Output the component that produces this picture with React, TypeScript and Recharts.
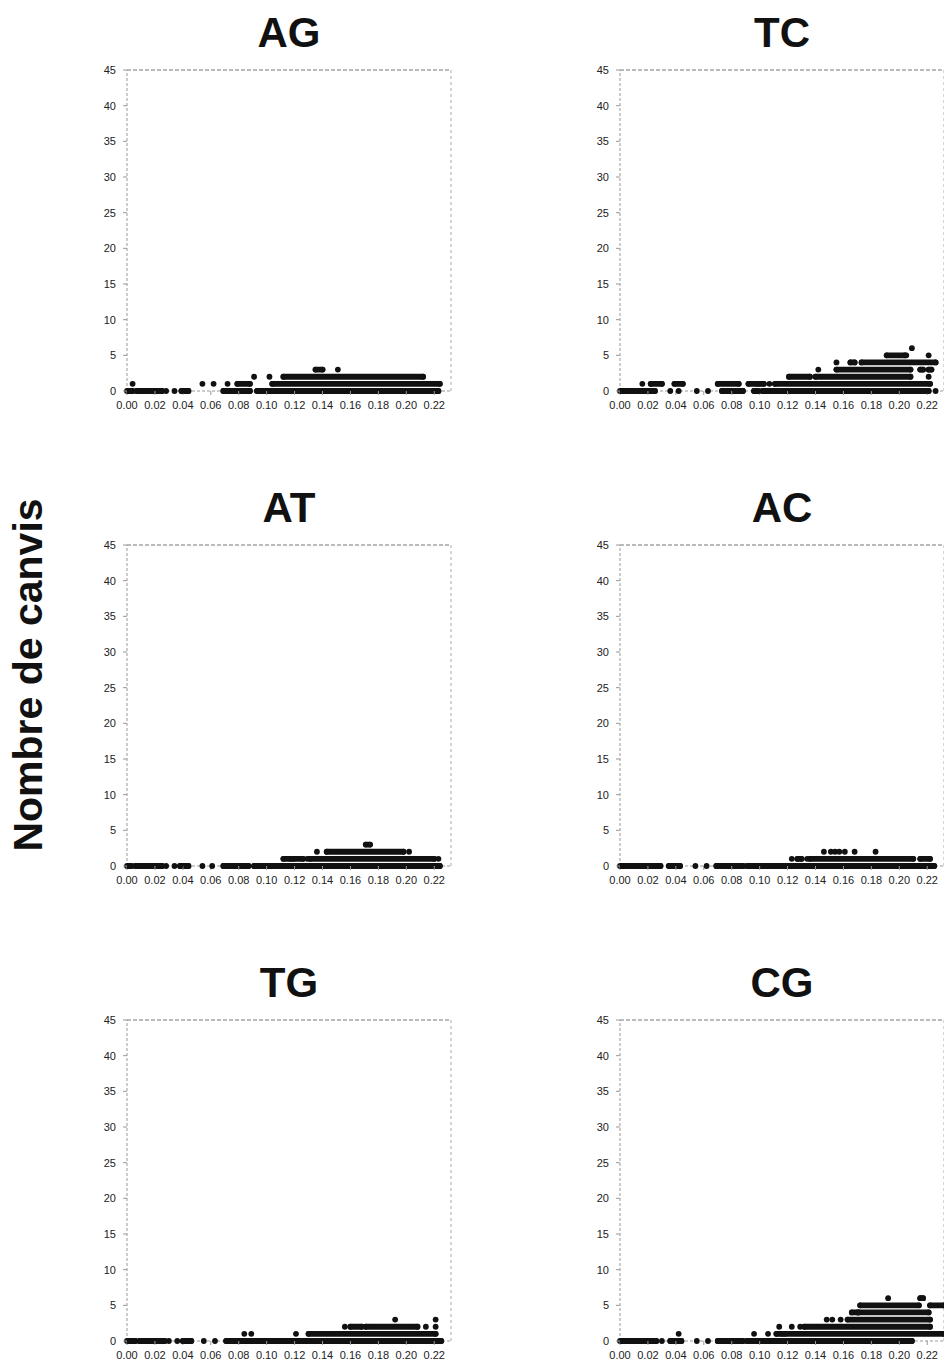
import React from 'react'
import { ScatterChart, Scatter, XAxis, YAxis, ReferenceLine } from 'recharts'

// Each run is a dense row of dots: [count, fromDistance, toDistance].
// Loose dots are [distance, count].
type Run = [number, number, number]
type Dot = [number, number]

const xTicks = [0, 0.02, 0.04, 0.06, 0.08, 0.1, 0.12, 0.14, 0.16, 0.18, 0.2, 0.22]
const yTicks = [0, 5, 10, 15, 20, 25, 30, 35, 40, 45]

const agRuns: Run[] = [
  [0, 0.0, 0.004], [0, 0.007, 0.025], [0, 0.039, 0.044], [0, 0.069, 0.088], [0, 0.093, 0.103], [0, 0.105, 0.223],
  [1, 0.079, 0.088], [1, 0.104, 0.224],
  [2, 0.112, 0.212],
  [3, 0.135, 0.14],
]
const agDots: Dot[] = [
  [0.028, 0], [0.034, 0], [0.004, 1], [0.054, 1], [0.062, 1], [0.072, 1], [0.091, 2], [0.102, 2], [0.151, 3],
]

const tcRuns: Run[] = [
  [0, 0.0, 0.007], [0, 0.008, 0.025], [0, 0.073, 0.088], [0, 0.096, 0.099], [0, 0.102, 0.221],
  [1, 0.022, 0.03], [1, 0.039, 0.045], [1, 0.07, 0.085], [1, 0.092, 0.098], [1, 0.1, 0.103], [1, 0.111, 0.222],
  [2, 0.121, 0.136], [2, 0.14, 0.208],
  [3, 0.155, 0.208], [3, 0.215, 0.217], [3, 0.221, 0.223],
  [4, 0.165, 0.168], [4, 0.173, 0.226],
  [5, 0.191, 0.204],
]
const tcDots: Dot[] = [
  [0.036, 0], [0.042, 0], [0.055, 0], [0.063, 0], [0.226, 0], [0.016, 1], [0.107, 1], [0.221, 2],
  [0.142, 3], [0.155, 4], [0.205, 5], [0.221, 5], [0.209, 6],
]

const atRuns: Run[] = [
  [0, 0.0, 0.003], [0, 0.006, 0.025], [0, 0.038, 0.044], [0, 0.069, 0.087], [0, 0.091, 0.224],
  [1, 0.112, 0.117], [1, 0.119, 0.126], [1, 0.131, 0.22],
  [2, 0.143, 0.198],
  [3, 0.171, 0.174],
]
const atDots: Dot[] = [
  [0.028, 0], [0.034, 0], [0.054, 0], [0.061, 0], [0.129, 1], [0.223, 1], [0.136, 2], [0.202, 2],
]

const acRuns: Run[] = [
  [0, 0.0, 0.029], [0, 0.035, 0.043], [0, 0.069, 0.088], [0, 0.091, 0.225],
  [1, 0.127, 0.13], [1, 0.136, 0.21], [1, 0.215, 0.222],
]
const acDots: Dot[] = [
  [0.054, 0], [0.062, 0], [0.123, 1], [0.134, 1],
  [0.146, 2], [0.151, 2], [0.154, 2], [0.157, 2], [0.161, 2], [0.168, 2], [0.183, 2],
]

const tgRuns: Run[] = [
  [0, 0.0, 0.006], [0, 0.009, 0.027], [0, 0.04, 0.046], [0, 0.071, 0.09], [0, 0.092, 0.225],
  [1, 0.13, 0.221],
  [2, 0.16, 0.168], [2, 0.171, 0.208],
]
const tgDots: Dot[] = [
  [0.03, 0], [0.036, 0], [0.055, 0], [0.063, 0], [0.084, 1], [0.089, 1], [0.121, 1],
  [0.156, 2], [0.214, 2], [0.221, 2], [0.192, 3], [0.221, 3],
]

const cgRuns: Run[] = [
  [0, 0.0, 0.005], [0, 0.007, 0.026], [0, 0.036, 0.044], [0, 0.07, 0.088], [0, 0.091, 0.209],
  [1, 0.112, 0.116], [1, 0.118, 0.232],
  [2, 0.132, 0.222],
  [3, 0.163, 0.222],
  [4, 0.166, 0.17], [4, 0.171, 0.221],
  [5, 0.172, 0.214], [5, 0.222, 0.232],
  [6, 0.215, 0.217],
]
const cgDots: Dot[] = [
  [0.03, 0], [0.055, 0], [0.063, 0], [0.042, 1], [0.096, 1], [0.106, 1],
  [0.114, 2], [0.123, 2], [0.129, 2], [0.148, 3], [0.152, 3], [0.158, 3], [0.192, 6],
]

const X_MAX = 0.232
const FONT = 'Arial, "Liberation Sans", Helvetica, sans-serif'
const DOT = '#111'
const FRAME = '#999'

const dotShape = (p: any) => <circle cx={p.cx} cy={p.cy} r={2.9} fill={DOT} />

function Panel({ left, top, runs, dots }: { left: number; top: number; runs: Run[]; dots: Dot[] }) {
  // run ends are dots too, which gives the rows their rounded ends
  const points = [
    ...runs.flatMap(([y, a, b]) => [{ x: a, y }, { x: b, y }]),
    ...dots.map(([x, y]) => ({ x, y })),
  ]
  return (
    <div style={{ position: 'absolute', left, top }}>
      <ScatterChart width={381} height={356} margin={{ top: 10, right: 10, bottom: 0, left: 0 }}>
        <XAxis
          type="number" dataKey="x" domain={[0, X_MAX]} ticks={xTicks} allowDataOverflow
          tickFormatter={(v: number) => v.toFixed(2)}
          tick={{ fill: '#222', fontSize: 11, fontFamily: FONT }}
          axisLine={false}
          tickLine={{ stroke: FRAME }} tickSize={4} tickMargin={6} height={25} interval={0}
        />
        <YAxis
          type="number" dataKey="y" domain={[0, 45]} ticks={yTicks}
          tick={{ fill: '#222', fontSize: 11, fontFamily: FONT }}
          axisLine={false}
          tickLine={{ stroke: FRAME }} tickSize={4} tickMargin={7} width={47}
        />
        {/* frame first so the dot rows sit on top of it */}
        <ReferenceLine y={0} stroke={FRAME} strokeDasharray="3 2" />
        <ReferenceLine x={0} stroke={FRAME} strokeDasharray="3 2" />
        <ReferenceLine y={45} stroke="#777" strokeDasharray="4 2" />
        <ReferenceLine x={X_MAX} stroke="#aaa" strokeDasharray="3 3" />
        {runs.map(([y, a, b], i) => (
          <ReferenceLine
            key={i}
            segment={[{ x: a, y }, { x: b, y }]}
            stroke={DOT}
            strokeWidth={5.8}
            strokeLinecap="round"
          />
        ))}
        <Scatter data={points} shape={dotShape} isAnimationActive={false} />
      </ScatterChart>
    </div>
  )
}

const titles = [
  { text: 'AG', x: 289, y: 47 }, { text: 'TC', x: 782, y: 47 },
  { text: 'AT', x: 289, y: 522 }, { text: 'AC', x: 782, y: 522 },
  { text: 'TG', x: 289, y: 997 }, { text: 'CG', x: 782, y: 997 },
]

export default function App() {
  return (
    <div style={{ position: 'absolute', left: 0, top: 0, width: 944, height: 1370, overflow: 'hidden', background: '#fff' }}>
      <Panel left={80} top={60} runs={agRuns} dots={agDots} />
      <Panel left={573} top={60} runs={tcRuns} dots={tcDots} />
      <Panel left={80} top={535} runs={atRuns} dots={atDots} />
      <Panel left={573} top={535} runs={acRuns} dots={acDots} />
      <Panel left={80} top={1010} runs={tgRuns} dots={tgDots} />
      <Panel left={573} top={1010} runs={cgRuns} dots={cgDots} />
      <svg width={944} height={1370} style={{ position: 'absolute', left: 0, top: 0, pointerEvents: 'none' }}>
        {titles.map((t) => (
          <text key={t.text} x={t.x} y={t.y} textAnchor="middle" fontFamily={FONT} fontWeight="bold" fontSize={42} fill="#111">
            {t.text}
          </text>
        ))}
        <text
          x={42} y={675} transform="rotate(-90 42 675)" textAnchor="middle"
          fontFamily={FONT} fontWeight="bold" fontSize={41} fill="#111"
        >
          Nombre de canvis
        </text>
      </svg>
    </div>
  )
}
